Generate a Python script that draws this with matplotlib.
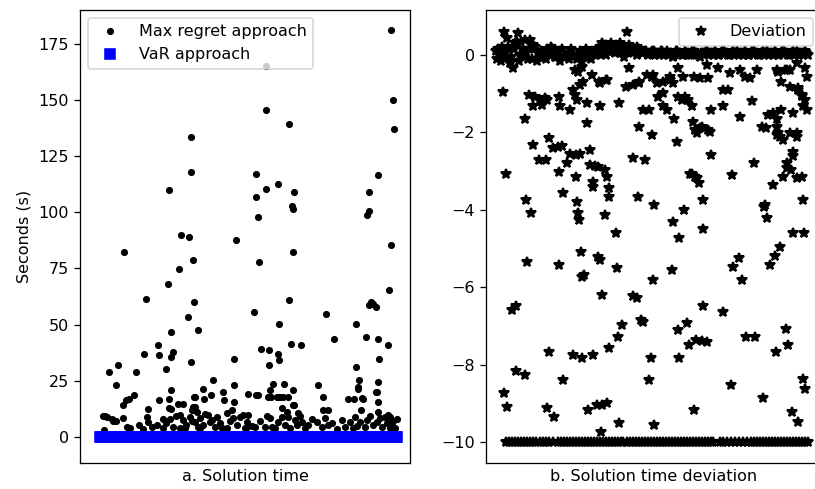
#!/usr/bin/env python3
import matplotlib

matplotlib.use("Agg")
import matplotlib.pyplot as plt

# ---- panel a: solution time per instance (seconds) ----
mr_instance = [
    292, 294, 295, 167, 190, 92, 92, 157, 279, 179,
    167, 70, 195, 270, 157, 193, 194, 270, 268, 159,
    82, 90, 137, 292, 25, 194, 94, 160, 80, 290,
    69, 47, 95, 190, 272, 274, 270, 277, 155, 227,
    89, 180, 257, 72, 99, 235, 267, 279, 192, 202,
    289, 59, 60, 162, 170, 179, 180, 45, 74, 72,
    135, 280, 92, 170, 257, 19, 10, 37, 67, 114,
    260, 279, 17, 135, 174, 185, 219, 277, 72, 104,
    124, 149, 157, 194, 259, 35, 30, 27, 24, 60,
    84, 95, 112, 105, 125, 135, 172, 179, 184, 224,
    249, 255, 264, 279, 194, 49, 72, 94, 224, 229,
    262, 289, 70, 79, 70, 96, 96, 183, 188, 199,
    195, 169, 178, 181, 189, 171, 259, 278, 263, 279,
    291, 298, 93, 98, 133, 159, 167,
    4, 8, 5, 14, 17, 6, 13, 24, 28, 31,
    48, 49, 58, 64, 71, 74, 81, 84, 87, 91,
    96, 101, 104, 109, 113, 116, 118, 121, 128, 134,
    138, 144, 148, 64, 81, 101, 128, 149, 148, 171,
    179, 189, 203, 218, 226, 233, 243, 256, 261, 268,
    278, 286, 293, 166, 186, 206, 223, 246, 266, 283,
    296, 156, 176, 198, 40, 44, 53, 67, 77, 86,
    93, 99, 106, 111, 123, 131, 141, 146, 153, 161,
    168, 173, 183, 191, 196, 201, 209, 213, 229, 238,
    251, 254, 258, 271, 274, 281, 288, 291, 294,
]
mr_seconds = [
    181, 149.8, 137.2, 145.3, 139.4, 133.5, 117.8, 117.2, 116.4, 112.7,
    110.5, 109.7, 109, 109, 106.8, 102.8, 101.6, 100.5, 98.6, 97.9,
    89.7, 89, 87.5, 85.3, 82.3, 82.3, 78.6, 77.9, 74.9, 65.3,
    68.2, 61.5, 60, 60.8, 60, 59, 58.5, 58, 55.6, 54.9,
    53.4, 50.4, 50.4, 46.7, 47.5, 43.7, 44.5, 43.7, 41.5, 40.8,
    40.8, 40.8, 36.3, 39.3, 38.6, 37.1, 34.1, 37.1, 37.8, 35.6,
    34.9, 34.9, 33.4, 31.9, 31.1, 31.9, 28.9, 28.9, 30.4, 25.2,
    25.2, 24.5, 23, 23, 23.7, 23.7, 23, 20, 20.8, 21.5,
    20, 19.3, 18.5, 20.8, 21.5, 18.5, 17, 16.3, 14.1, 16.3,
    14.8, 17.8, 18.5, 17, 16.3, 15.6, 17.8, 17.8, 17.8, 17.8,
    17, 17, 17, 15.6, 14.1, 12.6, 12.6, 13.3, 11.9, 11.9,
    11.9, 9.6, 16.9, 14.7, 12.8, 17.9, 13.5, 12.7, 11.2, 10.5,
    14.2, 17.9, 17.9, 17.9, 17.9, 20.9, 22.4, 20.1, 17.2, 11.2,
    8.7, 8.0, 12.0, 11.3, 12.0, 18.7, 165.3,
    9.2, 8.9, 3.0, 7.1, 7.1, 9.3, 7.8, 8.3, 4.6, 4.0,
    8.7, 6.8, 5.3, 7.8, 7.8, 4.6, 9.8, 7.6, 5.3, 9.0,
    6.8, 8.3, 5.3, 9.8, 7.6, 4.6, 9.0, 6.0, 10.5, 8.3,
    5.3, 9.8, 6.8, 3.9, 3.9, 3.9, 3.9, 9.7, 4.6, 8.3,
    6.8, 9.0, 6.8, 6.8, 8.3, 6.0, 7.6, 9.0, 6.8, 7.6,
    6.8, 9.0, 6.0, 4.6, 5.3, 3.9, 4.6, 4.6, 4.3, 4.6,
    3.9, 4.6, 3.9, 5.3, 5.5, 3.5, 4.2, 6.0, 9.5, 4.0,
    7.0, 4.5, 10.0, 6.5, 4.0, 7.2, 9.0, 3.8, 5.0, 7.0,
    9.2, 4.2, 8.8, 4.0, 7.5, 9.5, 5.5, 8.0, 5.5, 3.5,
    6.5, 4.0, 5.0, 9.5, 5.5, 8.5, 6.0, 4.0, 7.0,
]
# every VaR solve reads as ~0 s
var_instance = list(range(1, 299))
var_seconds = [0.0] * len(var_instance)

# ---- panel b: solution time deviation ----
dev_instance = [
    7, 10, 8, 11, 16, 20, 20, 29, 17, 29,
    30, 35, 31, 37, 33, 39, 44, 49, 37, 46,
    51, 43, 50, 53, 57, 62, 66, 63, 67, 71,
    74, 80, 84, 63, 53, 51, 58, 67, 63, 64,
    74, 77, 79, 81, 84, 87, 86, 82, 79, 80,
    81, 82, 83, 85, 86, 88, 77, 86, 97, 92,
    101, 106, 111, 105, 91, 91, 94, 94, 97, 97,
    99, 102, 109, 111, 102, 104, 106, 109, 113, 113,
    104, 104, 111, 96, 113, 122, 126, 120, 121, 123,
    123, 130, 137, 142, 143, 137, 141, 145, 147, 131,
    133, 137, 143, 147, 153, 151, 156, 149, 156, 158,
    157, 155, 153, 158, 161, 162, 167, 167, 171, 174,
    177, 178, 181, 182, 186, 189, 192, 196, 177, 183,
    188, 176, 182, 191, 193, 183, 196, 201, 203, 198,
    197, 199, 201, 206, 214, 215, 215, 207, 207, 207,
    198, 200, 206, 211, 227, 232, 227, 236, 227, 235,
    237, 243, 246, 244, 256, 250, 259, 258, 268, 271,
    267, 266, 270, 272, 277, 274, 279, 284, 277, 280,
    281, 281, 282, 284, 285, 287, 290, 292, 287, 291,
    295, 294, 297, 308, 297, 301, 297, 294, 301, 306,
    307, 296, 302, 307, 309, 302, 306, 309, 311, 307,
    285, 281, 289, 294, 8, 11, 21, 29, 22, 34,
    157, 167, 174, 182, 187, 204, 211, 212, 222, 234,
    244, 249, 254, 261, 282, 291, 301, 311, 309, 194,
    199, 204, 212, 269, 281, 301, 297, 291, 302, 306,
    103, 110, 143,
]
dev_value = [
    -0.95, -3.06, -8.73, -9.08, -6.58, -6.48, -8.16, -8.26, -0.34, -1.64,
    -3.74, -4.07, -5.34, -2.32, -1.03, -1.08, -1.16, -1.12, -1.32, -1.29,
    -1.16, -2.71, -2.71, -2.15, -2.41, -2.37, -2.35, -3.01, -3.57, -2.8,
    -2.56, -2.58, -2.56, -5.42, -7.66, -9.12, -9.34, -8.39, -1.08, -1.33,
    -1.42, -0.9, -1.03, -1.16, -0.77, -0.69, -0.3, -0.43, -0.39, -3.14,
    -3.79, -4.09, -4.26, -5.08, -5.72, -5.68, -7.75, -7.83, -7.75, -9.17,
    -9.04, -9.04, -8.99, -9.72, -1.76, -1.25, -2.45, -2.84, -3.27, -3.4,
    -2.87, -2.89, -2.97, -3.14, -5.21, -5.28, -6.2, -4.13, -3.44, -3.66,
    -1.33, -0.73, -0.65, -0.52, -7.57, -7.27, -6.97, -4.6, -5.51, -9.51,
    -1.25, -0.82, -2.67, -3.66, -1.85, -6.22, -6.28, -6.84, -6.88, 0.6,
    -0.34, -0.77, -0.69, -1.42, -1.42, -0.52, -0.56, -2.71, -2.07, -3.87,
    -5.81, -7.83, -8.39, -9.55, -0.73, -1.08, -0.99, -1.33, -1.42, -0.65,
    -0.73, -1.64, -2.24, -1.08, -1.16, -1.08, -1.16, -1.33, -4.3, -4.73,
    -4.0, -5.55, -7.1, -6.93, -7.49, -7.83, -3.06, -3.18, -3.31, -0.56,
    -1.72, -1.94, -2.02, -1.85, -1.98, -1.42, -2.58, -3.74, -4.48, -6.48,
    -9.17, -7.36, -7.38, -7.4, -0.9, -0.9, -1.33, -3.1, -6.63, -8.52,
    -5.46, -5.25, -5.81, -1.59, -1.2, -7.27, -7.27, -2.8, -3.92, -4.22,
    -8.86, -1.85, -1.89, -1.55, -1.51, -5.42, -5.19, -4.95, -3.36, -7.66,
    -1.64, -1.85, -2.02, -2.11, -1.42, -2.19, -7.06, -7.49, -3.14, -2.93,
    -2.97, -0.82, -4.6, -4.6, -2.62, -2.11, -1.51, -2.02, -3.18, -3.14,
    -3.74, -9.21, -9.47, -8.35, -8.61, -0.86, -1.03, -1.16, -1.42, -1.33,
    -0.69, -0.39, -0.39, -0.39, 0.6, 0.45, 0.34, 0.39, 0.56, 0.39,
    -0.52, -0.69, -0.56, -0.34, -0.56, -0.6, -0.26, -0.6, -0.34, -0.47,
    -0.39, -0.56, -0.6, -0.39, -0.43, -0.39, -0.22, -0.56, -0.34, -3.06,
    -3.14, -1.89, -1.94, -3.87, -2.07, -2.02, -2.5, -2.8, -0.9, -1.07,
    -0.69, -0.65, -0.73,
]
# the dense band of instances with (almost) no deviation
band_instance = [
    0, 2, 4, 6, 9, 12, 15, 18, 21, 24,
    27, 30, 33, 36, 39, 42, 45, 48, 51, 54,
    57, 60, 63, 66, 69, 72, 75, 78, 81, 84,
    87, 90, 93, 96, 99, 102, 105, 108, 111, 114,
    117, 120, 123, 126, 129, 132, 135, 138, 141, 144,
    147, 150, 153, 156, 159, 162, 165, 168, 171, 174,
    177, 180, 183, 186, 189, 192, 195, 198, 201, 204,
    207, 210, 213, 216, 219, 222, 225, 228, 231, 234,
    237, 240, 243, 246, 249, 252, 255, 258, 261, 264,
    267, 270, 273, 276, 279, 282, 285, 288, 291, 294,
    297, 300, 303, 306, 309, 312,
    1, 5, 10, 14, 19, 23, 28, 32, 37, 41,
    46, 50, 55, 59, 64, 68, 73, 77, 82, 86,
    91, 95, 106, 110, 115, 119, 124, 128, 133, 137,
    141,
    101, 104, 107, 110, 113, 116, 119, 122, 125, 128,
    131, 134, 137, 140, 143, 146, 149, 152, 155, 158,
    160, 163, 166, 169, 172, 175, 178, 181, 184, 187,
    190, 193, 196, 199, 202, 205, 208, 211, 214, 217,
    220, 223, 226, 229, 232, 235, 238, 241, 244, 247,
    250, 253, 256, 259, 262, 265, 268, 271, 274, 277,
    280, 283, 286, 289, 292, 295, 298, 301, 304, 307,
    310,
]
band_value = [
    0.1, 0.15, 0.0, 0.2, 0.05, 0.2, -0.05, 0.15, 0.25, 0.0,
    0.15, 0.1, 0.15, -0.1, 0.2, 0.05, 0.1, -0.05, 0.15, 0.0,
    0.15, -0.05, 0.1, 0.15, -0.05, 0.05, 0.15, 0.0, -0.1, 0.1,
    0.05, 0.15, -0.05, 0.1, 0.0, 0.05, 0.0, 0.25, 0.2, 0.2,
    0.1, 0.25, 0.15, 0.2, 0.05, 0.2, 0.1, 0.15, 0.2, 0.1,
    0.05, 0.1, 0.05, 0.1, 0.0, 0.05, 0.1, 0.0, 0.1, 0.05,
    -0.05, 0.1, 0.05, 0.0, 0.1, 0.05, 0.0, 0.1, 0.05, -0.05,
    0.05, 0.1, 0.0, 0.05, 0.1, 0.0, 0.05, 0.1, 0.05, 0.0,
    0.1, 0.05, 0.0, 0.05, 0.1, 0.0, 0.05, 0.1, 0.05, 0.0,
    0.1, 0.05, 0.0, 0.05, 0.1, 0.0, 0.05, 0.1, 0.05, 0.0,
    0.1, 0.05, 0.0, 0.05, 0.1, 0.0,
    -0.1, -0.15, -0.05, -0.2, 0.3, -0.15, -0.05, -0.1, 0.25, -0.15,
    -0.05, -0.1, 0.2, -0.05, -0.15, -0.05, -0.1, -0.05, 0.0, -0.15,
    -0.05, -0.1, 0.3, 0.0, 0.3, 0.05, 0.3, -0.05, 0.25, 0.1,
    0.0,
    0.15, 0.2, 0.05, 0.25, 0.1, 0.15, 0.2, 0.1, 0.05, 0.15,
    0.1, 0.2, 0.05, 0.1, 0.15, 0.05, 0.1, 0.0, 0.05, 0.1,
    0.05, 0.0, 0.1, 0.05, 0.0, 0.05, 0.0, 0.1, 0.05, 0.0,
    0.05, 0.0, 0.1, 0.05, 0.0, 0.05, 0.0, 0.1, 0.05, 0.0,
    0.05, 0.0, 0.1, 0.05, 0.0, 0.05, 0.0, 0.1, 0.05, 0.0,
    0.05, 0.0, 0.1, 0.05, 0.0, 0.05, 0.0, 0.1, 0.05, 0.0,
    0.05, 0.0, 0.1, 0.05, 0.0, 0.05, 0.0, 0.1, 0.05, 0.0,
    0.05,
]
# instances whose deviation is capped at -10
floor_instance = [
    10, 13, 16, 19, 22, 25, 28, 31, 34, 37,
    40, 44, 47, 50, 53, 57, 62, 65, 68, 71,
    74, 77, 80, 83, 86, 89, 92, 95, 98, 101,
    104, 107, 110, 113, 116, 119, 122, 125, 127, 131,
    134, 137, 140, 143, 146, 149, 152, 155, 158, 161,
    164, 167, 170, 173, 176, 179, 182, 185, 188, 191,
    194, 197, 200, 203, 206, 209, 212, 215, 217, 224,
    227, 231, 235, 239, 243, 247, 251, 255, 258, 261,
    264, 267, 270, 273, 276, 279, 282, 285, 288, 291,
    294, 297, 300, 303, 306, 309, 312,
]
floor_value = [-10.0] * len(floor_instance)

DPI = 115
fig = plt.figure(figsize=(815 / DPI, 489 / DPI), dpi=DPI)
ax1 = fig.add_axes([80 / 815, 26 / 489, 330 / 815, 453 / 489])
ax2 = fig.add_axes([486 / 815, 26 / 489, 335 / 815, 453 / 489])

ax1.plot(mr_instance, mr_seconds, "k.", markersize=6.5, markeredgewidth=1.2,
         label="Max regret approach")
ax1.plot(var_instance, var_seconds, "bs", label="VaR approach")
ax1.set_xlim(-19, 311)
ax1.set_ylim(-11.6, 190)
ax1.set_yticks([0, 25, 50, 75, 100, 125, 150, 175])
ax1.set_xticks([])
ax1.set_ylabel("Seconds (s)")
ax1.set_xlabel("a. Solution time")
ax1.legend(loc="upper left")

dev_x = dev_instance + band_instance + floor_instance
dev_y = dev_value + band_value + floor_value
ax2.plot(dev_x, dev_y, "k*", markersize=6.5, markeredgewidth=1.3,
         label="Deviation")
ax2.set_xlim(-10, 325)
ax2.set_ylim(-10.53, 1.16)
ax2.set_yticks([0, -2, -4, -6, -8, -10])
ax2.set_xticks([])
ax2.set_xlabel("b. Solution time deviation")
ax2.legend(loc="upper right")

fig.savefig("out.png", dpi=DPI)
plt.close(fig)
